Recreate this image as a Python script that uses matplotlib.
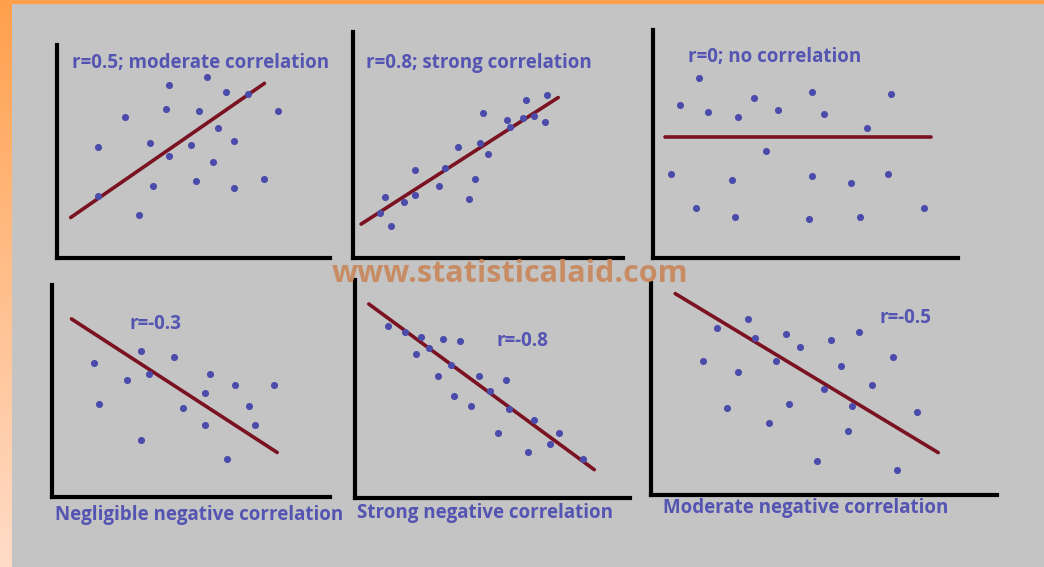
import matplotlib
matplotlib.use("Agg")
import matplotlib.pyplot as plt
import numpy as np
from matplotlib.colors import LinearSegmentedColormap
from matplotlib.patches import Rectangle

# ---------------- data (0-10 scale within each panel) ----------------
p1_x = [1.5, 2.5, 4.1, 5.5, 4.0, 5.2, 6.2, 7.0, 8.1, 3.4, 4.9, 4.1, 5.9, 6.5, 5.7, 3.5, 5.1, 6.5, 7.6, 1.5, 3.0]
p1_y = [5.2, 6.6, 8.1, 8.5, 7.0, 6.9, 7.8, 7.7, 6.9, 5.4, 5.3, 4.8, 6.1, 5.5, 4.5, 3.4, 3.6, 3.3, 3.7, 2.9, 2.0]
p1_line_x = [0.5, 7.6]
p1_line_y = [1.9, 8.2]

p2_x = [1.0, 1.4, 1.2, 1.9, 2.3, 2.3, 3.2, 3.4, 3.9, 4.3, 4.5, 4.7, 5.0, 4.8, 5.7, 5.8, 6.3, 6.4, 6.7, 7.1, 7.2]
p2_y = [2.0, 1.4, 2.7, 2.5, 2.8, 3.9, 3.2, 4.0, 4.9, 2.6, 3.5, 5.1, 4.6, 6.4, 6.1, 5.8, 6.2, 7.0, 6.3, 6.0, 7.2]
p2_line_x = [0.3, 7.6]
p2_line_y = [1.5, 7.1]

p3_x = [1.5, 0.9, 1.8, 2.8, 3.3, 4.1, 5.2, 5.6, 7.8, 7.0, 3.7, 0.6, 2.6, 5.2, 6.5, 7.7, 1.4, 2.7, 5.1, 6.8, 8.9]
p3_y = [7.9, 6.7, 6.4, 6.2, 7.0, 6.5, 7.3, 6.3, 7.2, 5.7, 4.7, 3.7, 3.4, 3.6, 3.3, 3.7, 2.2, 1.8, 1.7, 1.8, 2.2]
p3_line_x = [0.4, 9.1]
p3_line_y = [5.3, 5.3]

p4_x = [1.5, 1.7, 2.7, 3.2, 3.5, 4.4, 4.7, 3.2, 5.7, 5.5, 5.5, 6.6, 7.1, 7.3, 8.0, 6.3]
p4_y = [6.3, 4.4, 5.5, 6.9, 5.8, 6.6, 4.2, 2.7, 5.8, 4.9, 3.4, 5.3, 4.3, 3.4, 5.3, 1.8]
p4_line_x = [0.7, 8.1]
p4_line_y = [8.4, 2.1]

p5_x = [1.2, 1.8, 2.4, 3.2, 3.8, 2.2, 2.7, 3.0, 3.5, 3.6, 4.2, 4.5, 4.9, 5.5, 5.6, 5.2, 6.5, 6.3, 7.1, 7.4, 8.3]
p5_y = [7.9, 7.6, 7.4, 7.3, 7.2, 6.6, 6.9, 5.6, 6.1, 4.7, 4.2, 5.6, 4.9, 5.4, 4.1, 3.0, 3.6, 2.1, 2.5, 3.0, 1.8]
p5_line_x = [0.5, 8.7]
p5_line_y = [8.9, 1.3]

p6_x = [2.8, 1.9, 3.0, 1.5, 2.5, 3.6, 3.9, 4.3, 5.2, 6.0, 5.5, 5.0, 7.0, 6.4, 2.2, 4.0, 3.4, 5.8, 5.7, 7.7, 4.8, 7.1]
p6_y = [8.3, 7.9, 7.4, 6.3, 5.8, 6.3, 7.6, 7.0, 7.3, 7.7, 6.1, 5.0, 6.5, 5.2, 4.1, 4.3, 3.4, 4.2, 3.0, 3.9, 1.6, 1.2]
p6_line_x = [0.7, 8.3]
p6_line_y = [9.5, 2.0]

titles = ["r=0.5; moderate correlation", "r=0.8; strong correlation", "r=0; no correlation",
          "r=-0.3", "r=-0.8", "r=-0.5"]
captions = ["", "", "", "Negligible negative correlation", "Strong negative correlation",
            "Moderate negative correlation"]
watermark = "www.statisticalaid.com"

# ---------------- style ----------------
W, H = 1044, 567
BG = "#c4c4c4"
TXT = "#5454b2"
DOT = "#4b4bab"
LINE = "#7a1222"
FONT = "Open Sans"

fig = plt.figure(figsize=(W / 100, H / 100), dpi=100, facecolor=BG)

# orange border: left gradient strip + top strip
gax = fig.add_axes([0, 0, 12 / W, 1])
cmap = LinearSegmentedColormap.from_list("g", ["#ffdcc8", "#ffbf8c", "#ffa04c"])
gax.imshow(np.linspace(0, 1, 256).reshape(-1, 1), aspect="auto", cmap=cmap,
           origin="lower", extent=[0, 1, 0, 1])
gax.axis("off")
fig.patches.append(Rectangle((0, 1 - 3 / H), 1, 3 / H, transform=fig.transFigure,
                             color="#ffa04c", zorder=0))

# panel boxes in pixels: left, top, right, bottom (spine positions)
boxes = [(57, 45, 330, 258), (353, 32, 623, 258), (653, 30, 958, 258),
         (52, 285, 330, 497), (355, 280, 630, 498), (651, 283, 997, 495)]
title_pos = [(0.055, 0.915), (0.048, 0.863), (0.115, 0.88),
             (0.28, 0.816), (0.516, 0.72), (0.659, 0.835)]
cap_pos = [None, None, None, (0.01, -0.085), (0.007, -0.069), (0.035, -0.061)]

series = [(p1_x, p1_y, p1_line_x, p1_line_y), (p2_x, p2_y, p2_line_x, p2_line_y),
          (p3_x, p3_y, p3_line_x, p3_line_y), (p4_x, p4_y, p4_line_x, p4_line_y),
          (p5_x, p5_y, p5_line_x, p5_line_y), (p6_x, p6_y, p6_line_x, p6_line_y)]

for i, ((l, t, r, b), (xs, ys, lx, ly)) in enumerate(zip(boxes, series)):
    ax = fig.add_axes([l / W, 1 - b / H, (r - l) / W, (b - t) / H])
    ax.set_facecolor("none")
    ax.set_xlim(0, 10)
    ax.set_ylim(0, 10)
    for s in ("top", "right"):
        ax.spines[s].set_visible(False)
    for s in ("left", "bottom"):
        ax.spines[s].set_linewidth(3.0)
        ax.spines[s].set_color("black")
        ax.spines[s].set_capstyle("projecting")
    ax.set_xticks([])
    ax.set_yticks([])
    ax.plot(lx, ly, color=LINE, lw=2.6, solid_capstyle="round", zorder=2)
    ax.scatter(xs, ys, s=26, color=DOT, zorder=3, linewidths=0)
    tx, ty = title_pos[i]
    ax.text(tx, ty, titles[i], transform=ax.transAxes, ha="left", va="center",
            fontsize=13.5, fontweight="bold", color=TXT, family=FONT)
    if cap_pos[i] is not None:
        cx, cy = cap_pos[i]
        ax.text(cx, cy, captions[i], transform=ax.transAxes, ha="left", va="center",
                fontsize=13.5, fontweight="bold", color=TXT, family=FONT, clip_on=False)

fig.text(510 / W, 1 - 274 / H, watermark, ha="center", va="center", fontsize=22,
         fontweight="bold", color="#c8885c", alpha=0.92, family=FONT, zorder=10)

fig.savefig("out.png", dpi=100, facecolor=BG)
